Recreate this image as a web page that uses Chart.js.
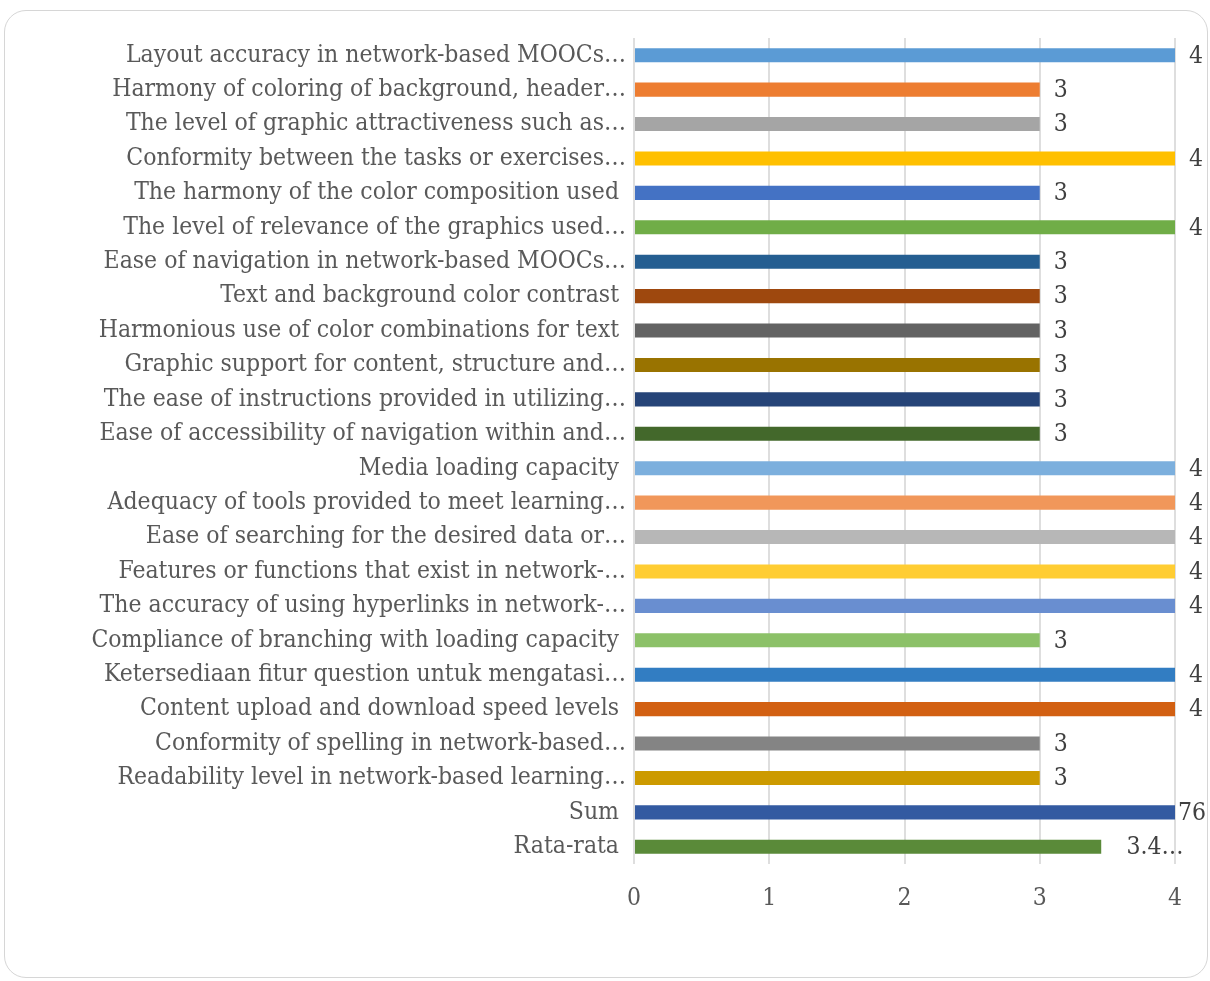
<!DOCTYPE html>
<html>
<head>
<meta charset="utf-8">
<script src="https://cdn.jsdelivr.net/npm/chart.js@4/dist/chart.umd.min.js"></script>
<style>
  html, body { margin: 0; padding: 0; background: #fff; }
  .card {
    position: absolute; left: 4px; top: 10px; width: 1204px; height: 968px;
    border: 1.5px solid #d6d6d6; border-radius: 22px; box-sizing: border-box;
  }
  #chart { position: absolute; left: 0; top: 0; }
</style>
</head>
<body>
<div class="card"></div>
<canvas id="chart" width="1210" height="981"></canvas>
<script>
const categories = [
  'Layout accuracy in network-based MOOCs…',
  'Harmony of coloring of background, header…',
  'The level of graphic attractiveness such as…',
  'Conformity between the tasks or exercises…',
  'The harmony of the color composition used ',
  'The level of relevance of the graphics used…',
  'Ease of navigation in network-based MOOCs…',
  'Text and background color contrast ',
  'Harmonious use of color combinations for text ',
  'Graphic support for content, structure and…',
  'The ease of instructions provided in utilizing…',
  'Ease of accessibility of navigation within and…',
  'Media loading capacity ',
  'Adequacy of tools provided to meet learning…',
  'Ease of searching for the desired data or…',
  'Features or functions that exist in network-…',
  'The accuracy of using hyperlinks in network-…',
  'Compliance of branching with loading capacity ',
  'Ketersediaan fitur question untuk mengatasi…',
  'Content upload and download speed levels ',
  'Conformity of spelling in network-based…',
  'Readability level in network-based learning…',
  'Sum ',
  'Rata-rata '
];
const scores = [4, 3, 3, 4, 3, 4, 3, 3, 3, 3, 3, 3, 4, 4, 4, 4, 4, 3, 4, 4, 3, 3, 76, 3.4545];
const barColors = [
  '#5B9BD5', '#ED7D31', '#A5A5A5', '#FFC000', '#4472C4', '#70AD47',
  '#255E91', '#9E480E', '#636363', '#997300', '#264478', '#43682B',
  '#7CAFDD', '#F1975A', '#B7B7B7', '#FFCD33', '#698ED0', '#8CC168',
  '#327DC2', '#D26012', '#848484', '#CC9A00', '#335AA1', '#5A8A39'
];
const xTicks = [0, 1, 2, 3, 4];

const FONT = "'DejaVu Serif Condensed', 'DejaVu Serif', serif";
const SIZE = 24.5;

// value labels to the right of each bar, squeezed in when they run past the edge
const valueLabels = {
  id: 'valueLabels',
  afterDatasetsDraw(chart) {
    const ctx = chart.ctx;
    const area = chart.chartArea;
    const limit = chart.width - 1;
    const meta = chart.getDatasetMeta(0);
    ctx.save();
    ctx.font = SIZE + 'px ' + FONT;
    ctx.fillStyle = '#404040';
    ctx.textBaseline = 'middle';
    meta.data.forEach((bar, i) => {
      const end = Math.min(bar.x, area.right);
      let text = String(scores[i]);
      const w = ctx.measureText(text).width;
      const whole = Number.isInteger(scores[i]);
      if (!whole || end + 14 + w > limit) {
        if (!whole) text = text.slice(0, 3) + '…';
        ctx.textAlign = 'center';
        ctx.fillText(text, (end + limit) / 2, bar.y + 1);
      } else {
        ctx.textAlign = 'left';
        ctx.fillText(text, end + 14, bar.y + 1);
      }
    });
    ctx.restore();
  }
};

new Chart(document.getElementById('chart'), {
  type: 'bar',
  data: {
    labels: categories,
    datasets: [{
      data: scores,
      backgroundColor: barColors,
      barPercentage: 0.41,
      categoryPercentage: 1
    }]
  },
  options: {
    indexAxis: 'y',
    responsive: false,
    animation: false,
    layout: { padding: { left: 0, right: 35, top: 38, bottom: 0 } },
    plugins: {
      legend: { display: false },
      tooltip: { enabled: false }
    },
    scales: {
      x: {
        min: 0,
        max: 4,
        afterBuildTicks(scale) {
          scale.ticks = xTicks.map(v => ({ value: v }));
        },
        afterFit(scale) { scale.height = 117; },
        grid: { color: '#dedede', lineWidth: 2, drawTicks: false },
        border: { display: false },
        ticks: {
          padding: 20,
          color: '#595959',
          font: { family: FONT, size: SIZE }
        }
      },
      y: {
        afterFit(scale) { scale.width = 634; },
        grid: { display: false },
        border: { display: false },
        ticks: {
          padding: 0,
          autoSkip: false,
          color: '#595959',
          font: { family: FONT, size: SIZE }
        }
      }
    }
  },
  plugins: [valueLabels]
});
</script>
</body>
</html>
